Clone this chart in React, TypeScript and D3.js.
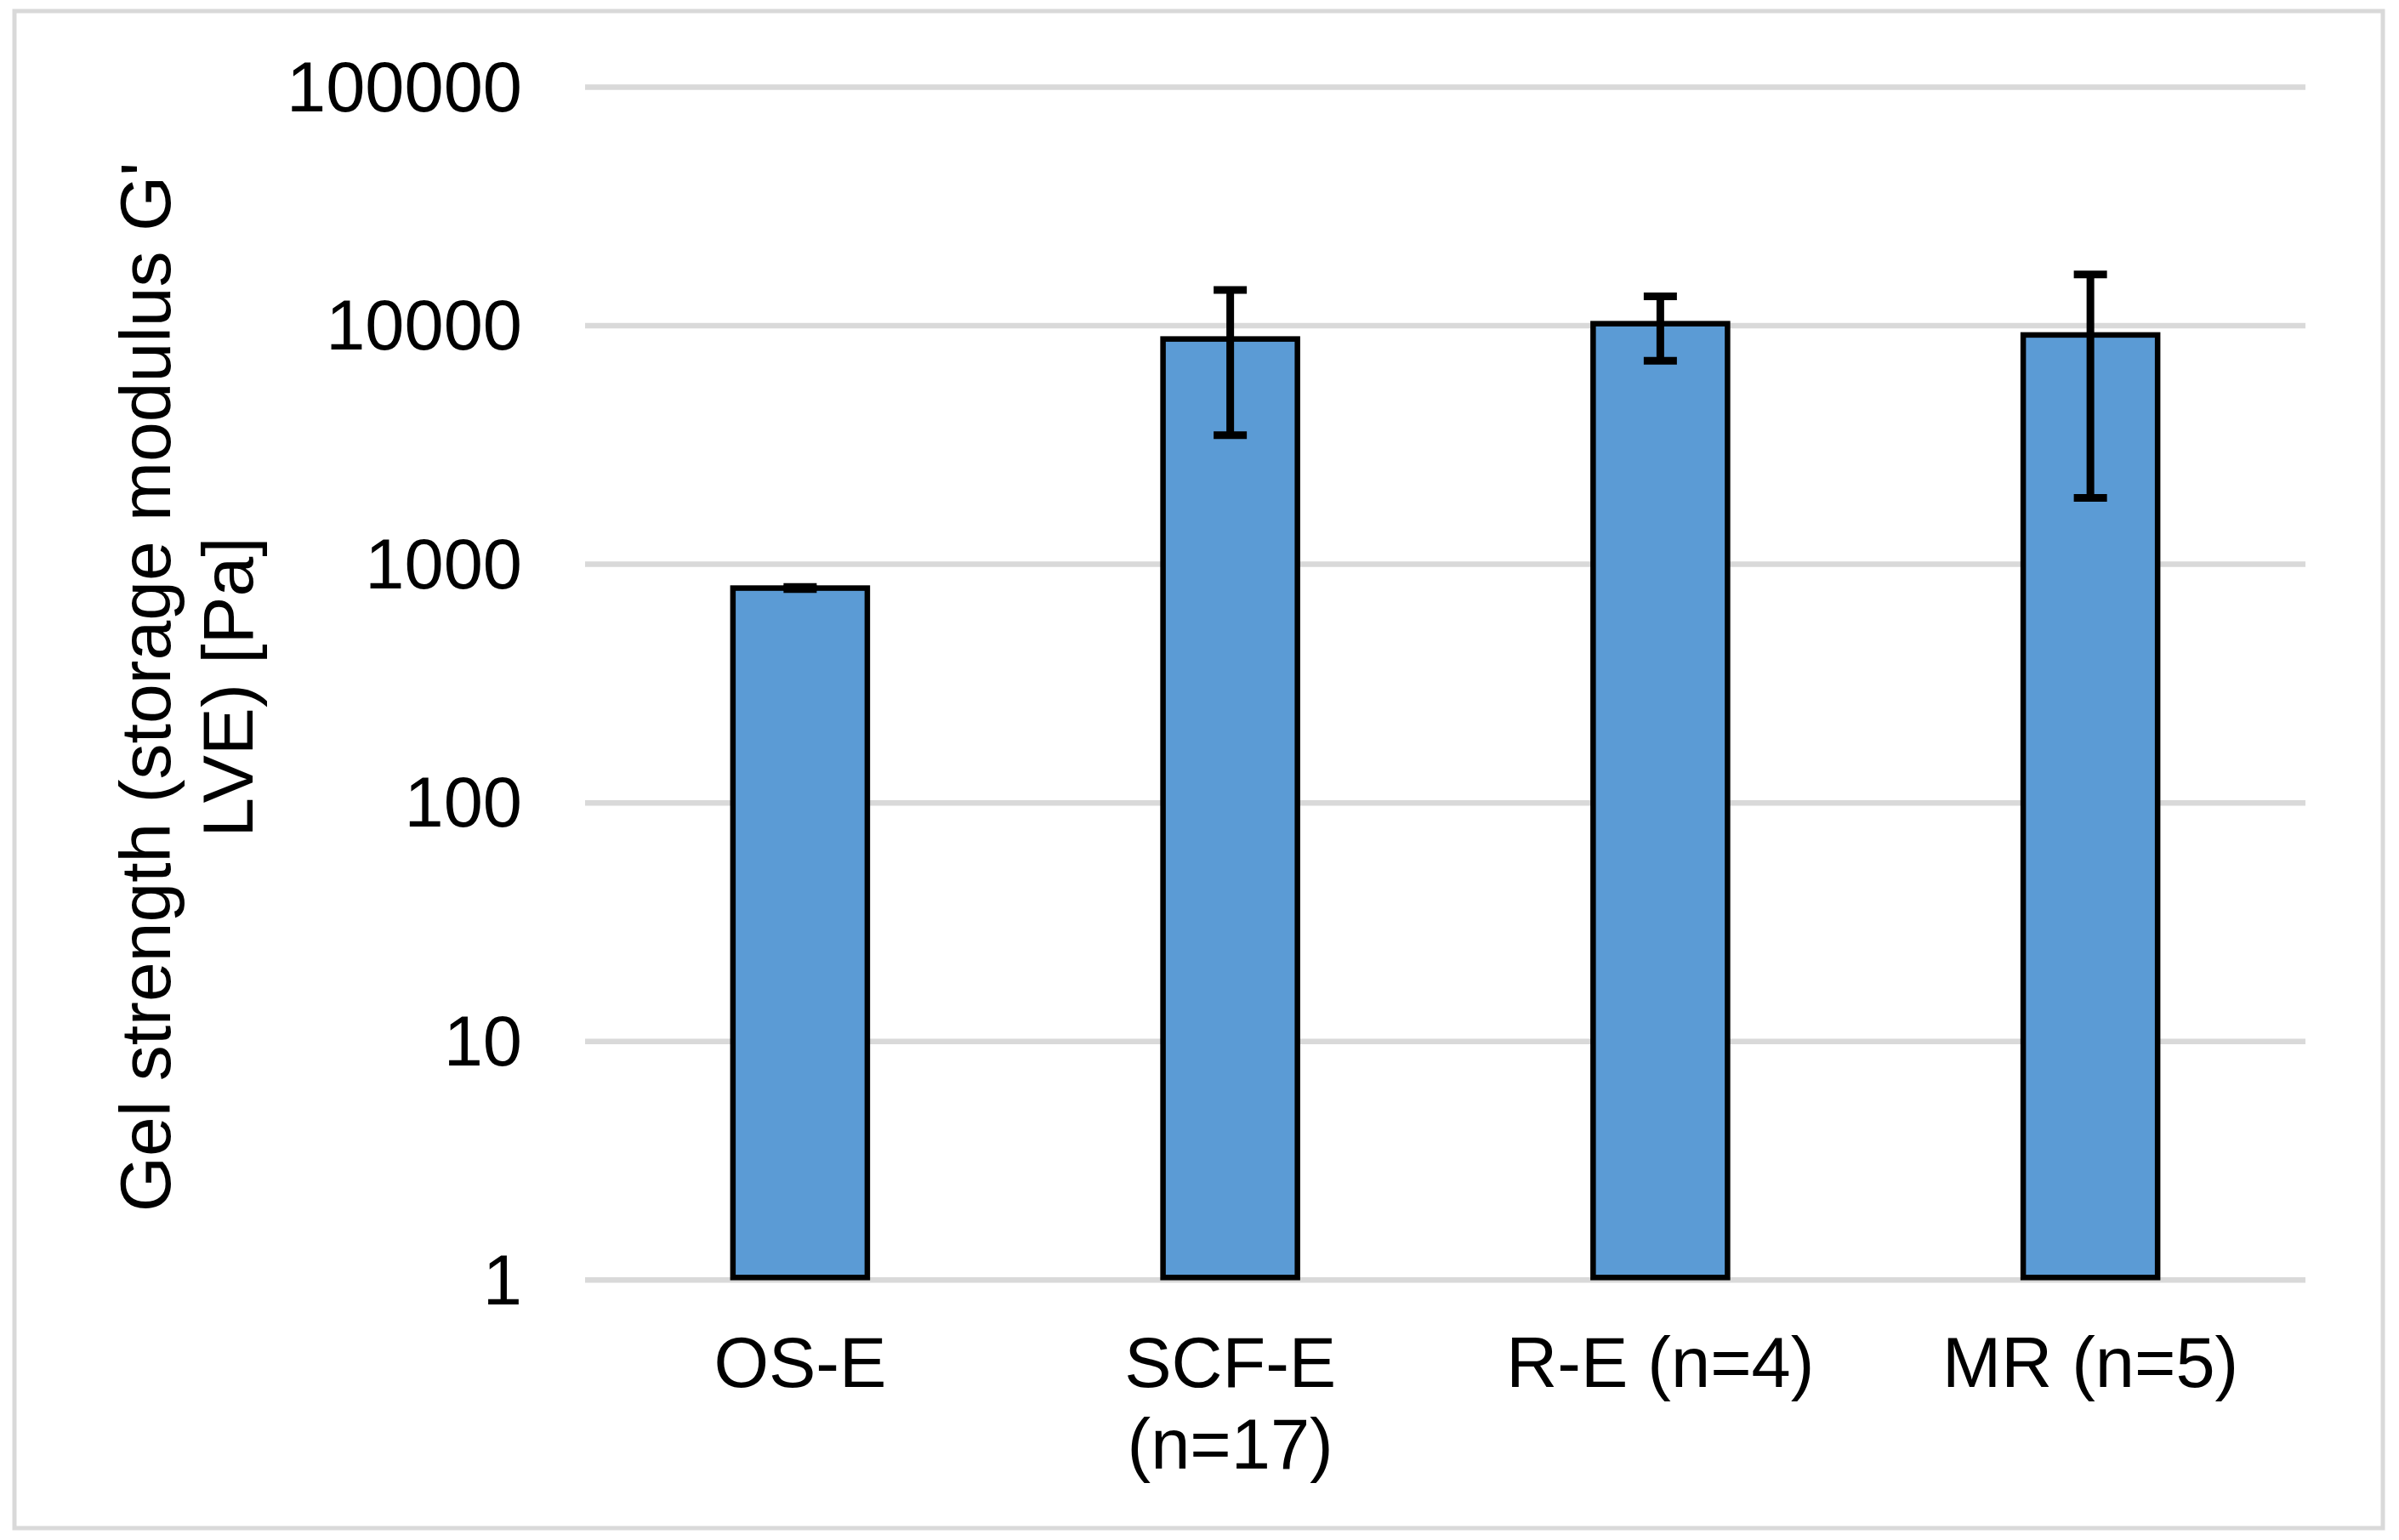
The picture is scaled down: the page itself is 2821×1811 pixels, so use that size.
import * as d3 from "d3";

const WIDTH = 2821;
const HEIGHT = 1811;

// chart data
const categories = ["OS-E", "SCF-E", "R-E", "MR"];
const categoryLabels = [["OS-E"], ["SCF-E", "(n=17)"], ["R-E (n=4)"], ["MR (n=5)"]];
const meanValues = [795, 8800, 10200, 9150];
const errorValues = [8, 5320, 3070, 7250];
const yTicks = [1, 10, 100, 1000, 10000, 100000];
const yTitleLines = ["Gel strength (storage modulus G'", "LVE) [Pa]"];

const FONT = "'Liberation Sans', Arial, sans-serif";
const FONT_SIZE = 83;
const TITLE_SIZE = 84;
const BAR_COLOR = "#5b9bd5";
const GRID_COLOR = "#d9d9d9";

const plot = { left: 688, right: 2711, top: 102.5, bottom: 1505.3 };

export const GelStrengthChart = () => {
  const xScale = d3
    .scaleBand()
    .domain(categories)
    .range([plot.left, plot.right])
    .paddingInner(0.6875)
    .paddingOuter(0.34375);

  const yScale = d3
    .scaleLog()
    .domain([1, 100000])
    .range([plot.bottom, plot.top]);

  const grid = yTicks.map((t) => (
    <g key={t}>
      <line
        x1={plot.left}
        x2={plot.right}
        y1={yScale(t)}
        y2={yScale(t)}
        stroke={GRID_COLOR}
        strokeWidth={6.5}
      />
      <text
        x={614}
        y={yScale(t)}
        dy="0.34em"
        textAnchor="end"
        fontSize={FONT_SIZE}
        fontFamily={FONT}
        fill="#000"
      >
        {t}
      </text>
    </g>
  ));

  const bars = categories.map((c, i) => {
    const x = xScale(c) ?? 0;
    const w = xScale.bandwidth();
    const cx = x + w / 2;
    const yTop = yScale(meanValues[i]);
    const yHi = yScale(meanValues[i] + errorValues[i]);
    const yLo = yScale(Math.max(1, meanValues[i] - errorValues[i]));
    return (
      <g key={c}>
        <rect
          x={x}
          y={yTop}
          width={w}
          height={plot.bottom - 3 - yTop}
          fill={BAR_COLOR}
          stroke="#000"
          strokeWidth={6.5}
        />
        <line x1={cx} x2={cx} y1={yHi} y2={yLo} stroke="#000" strokeWidth={9} />
        <line x1={cx - 19.5} x2={cx + 19.5} y1={yHi} y2={yHi} stroke="#000" strokeWidth={9} />
        <line x1={cx - 19.5} x2={cx + 19.5} y1={yLo} y2={yLo} stroke="#000" strokeWidth={9} />
      </g>
    );
  });

  const xLabels = categories.map((c, i) => {
    const cx = (xScale(c) ?? 0) + xScale.bandwidth() / 2;
    return (
      <text
        key={c}
        x={cx}
        y={1631}
        textAnchor="middle"
        fontSize={FONT_SIZE}
        fontFamily={FONT}
        fill="#000"
      >
        {categoryLabels[i].map((line, j) => (
          <tspan key={j} x={cx} dy={j === 0 ? 0 : 96}>
            {line}
          </tspan>
        ))}
      </text>
    );
  });

  const yTitle = yTitleLines.map((line, j) => (
    <text
      key={j}
      transform={`translate(${200 + j * 96.7}, 808) rotate(-90)`}
      textAnchor="middle"
      fontSize={TITLE_SIZE}
      fontFamily={FONT}
      fill="#000"
    >
      {line}
    </text>
  ));

  return (
    <svg
      width={WIDTH}
      height={HEIGHT}
      style={{ position: "absolute", left: 0, top: 0, background: "#fff" }}
    >
      <rect x={0} y={0} width={WIDTH} height={HEIGHT} fill="#fff" />
      <rect
        x={17}
        y={13}
        width={2785}
        height={1784}
        fill="none"
        stroke={GRID_COLOR}
        strokeWidth={5}
      />
      <g>{grid}</g>
      <g>{bars}</g>
      <g>{xLabels}</g>
      <g>{yTitle}</g>
    </svg>
  );
};

export default function App() {
  return <GelStrengthChart />;
}
